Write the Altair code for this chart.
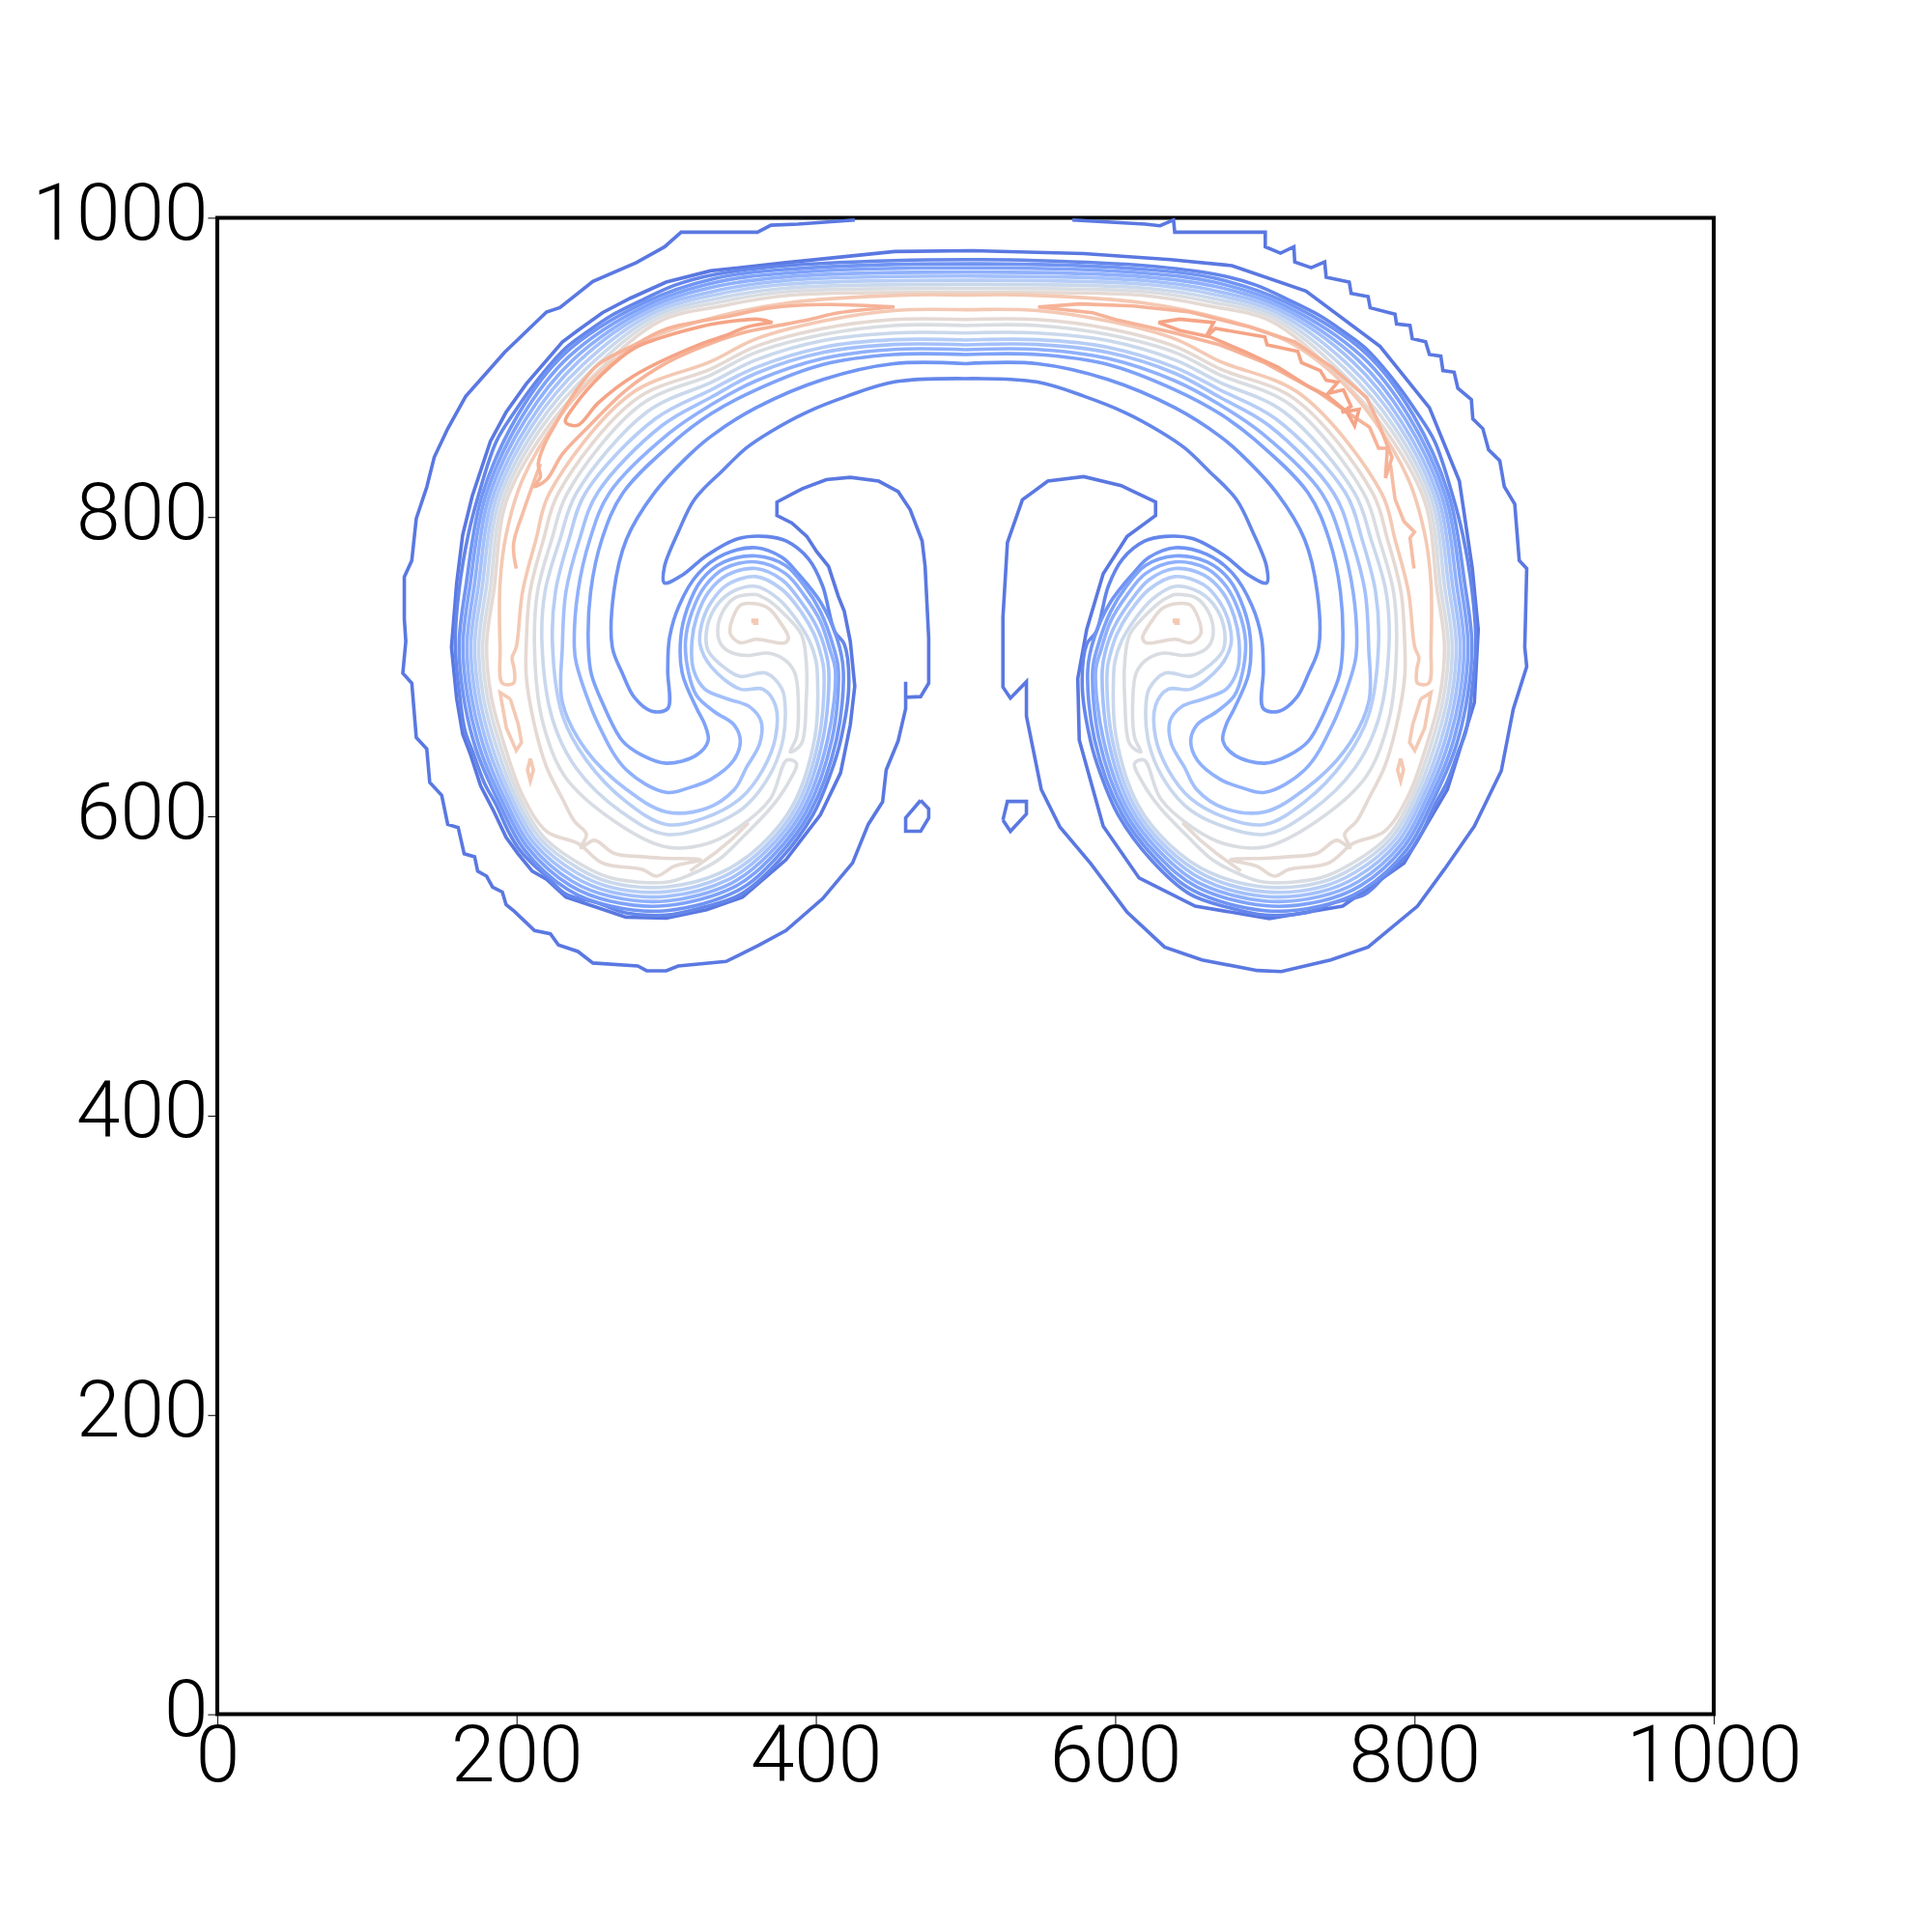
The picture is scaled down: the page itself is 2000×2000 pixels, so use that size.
import altair as alt
import pandas as pd

TICKS = [0, 200, 400, 600, 800, 1000]

L0 = [(426,998.5),(388,995.7),(370,995),(361,990.3),(310,990.3),(299,980.6),(280,970),(251,957.4),(229,940),(220,937),(192,910),(166,880.6),(154,859),(145,840),(140,820),(133,799),(130,771),(125,760),(125,732),(126,717),(124,695.6),(130,689),(133,652.7),(140,645),(142,622.6),(150,614),(154,594.6),(161,592.5),(165,575),(172,573),(174,563.4),(180,560),(184,552.7),(190.5,549.4),(193,541),(198.5,536.5),(212,523.7),(222.6,521.5),(228,514),(241,509.7),(251,502),(281,500),(287,496.8),(300,496.8),(308,500),(340,503),(362,514),(380,523.7),(404.5,545),(424.5,568.8),(435,594.6),(444.6,609.7),(447,631),(455,650.5),(460,672),(460,690),(460,679.5),(470,680),(475.4,689),(475.4,719),(473,767),(471,784),(463,805),(455,817),(442,824),(423,826.5),(407,825),(391,819),(374,810),(374,801),(384,796),(394,787),(400.5,777),(408.5,767),(415,747),(419,737),(423,717),(426,687),(423,661),(416.5,629),(403,601),(380,571),(351,546),(327,537.6),(300,532),(273,532.7),(255,538.7),(233,546),(220,558),(210.5,563.4),(201,575),(193,586),(185,603),(176,620.4),(169,642),(164,655),(160,678.5),(156.5,713),(160,756),(164,788),(170.4,814),(182.5,850.5),(193,870),(206.5,889),(230.6,917),(241,924.7),(257.4,936.5),(276,946.2),(300,957),(329.6,964.5),(380,970),(452.6,977.4),(505,978),(579,976),(637,972),(678,968),(727.5,951),(777,914),(810,873),(830,824),(838.6,766),(842.6,725),(840,676),(822,618),(793,568.7),(752,540),(703,531.7),(653.5,540),(616,558.8),(592,593.4),(576,651),(575,692),(581,725),(592,762),(608,787),(627,801),(627,810),(604,821),(579,827),(555,824),(538,811.5),(528,783),(525,733),(525,686.4),(530,679),(540.7,690),(540.7,667),(550.6,618),(563,593),(583.5,568.7),(608,536),(633,512.7),(658,504),(695,497),(711,496.3),(744,504),(769,512.7),(802,540),(820,564.6),(840,593.4),(858,630.4),(866,671.6),(875,700),(873.7,713),(875,765.6),(870,771),(867,808.6),(860,820.4),(857,837.6),(849.5,845),(845.7,859),(839,865.6),(838,878.5),(829,886),(826.5,896.8),(819,897.9),(817.6,907.5),(810,908.6),(807.4,917.2),(798.5,919.3),(797,928),(788,929),(787,935.5),(770.4,939.8),(769,947.3),(757.7,949.4),(756.4,957),(741,960.2),(740,970.5),(731,966.6),(720,970.5),(719.4,980.6),(710.5,976.3),(700.3,980.6),(700.3,990.3),(639.8,990.3),(639,998.5),(630,994.6),(620,995.7),(571.4,998.5)]

ISLAND_L = [(470,610.7),(475.4,605),(475.4,599),(470,590),(460,590),(460,599),(470,610.7)]
ISLAND_R = [(525,597.5),(530,590),(540.7,601.6),(540.7,610),(528,610),(525,597.5)]

L1 = [(500,892.5),(452.6,890.3),(420.5,880.6),(393.8,870),(369.7,857),(353.6,846.2),(337.6,831),(318.9,811.8),(308.2,790.3),(298.8,766.7),(298.8,756),(310.9,761.3),(326.9,774.2),(348.3,785.6),(367,787),(380.4,783.9),(395.1,772),(404.5,754),(412.5,723.7),(419,715),(422,687),(416.5,650.5),(410,629),(398,601),(376,571),(350,548),(324,539),(300,534),(273,535.5),(254.7,542),(233,548),(220,560),(212,567),(202.5,577),(194.5,590),(186.5,607.5),(178.4,622.5),(170.4,644),(165.6,657),(162,680.6),(159,715),(161.6,751.5),(167.7,788),(174.4,814),(186.5,850.5),(198.5,870),(212,889),(233,913),(247,923.6),(263,934.4),(284,945),(305.5,954.8),(332,962),(380,968),(452.6,971.4),(500,972),
(547,971.4),(620,968),(668,962),(694.5,954.8),(716,945),(737,934.4),(753,923.6),(767,913),(788,889),(801.5,870),(813.5,850.5),(825.6,814),(832.3,788),(838.4,751.5),(841,715),(838,680.6),(834.4,657),(829.6,644),(821.6,622.5),(813.5,607.5),(805.5,590),(797.5,577),(788,567),(780,560),(767,548),(745.3,542),(727,535.5),(700,534),(676,539),(650,548),(624,571),(602,601),(590,629),(583.5,650.5),(578,687),(581,715),(587.5,723.7),(595.5,754),(605,772),(619.6,783.9),(633,787),(651.7,785.6),(673,774.2),(689,761.3),(701.2,756),(701.2,766.7),(691.8,790.3),(681,811.8),(662.4,831),(646.4,846.2),(630.3,857),(606.2,870),(579.5,880.6),(547.4,890.3),(500,892.5)]

L2 = [(500,902.5),(452,902.5),(405,892),(360,873),(330,854),(316,842),(292,816),(273.4,785),(265,750),(264,713),(270.7,695.6),(278.7,679.5),(290.3,670.3),(301,672),(301,698),(302.2,719.3),(308.6,740.8),(321.5,762.3),(338.7,775),(360,779.5),(377.4,773),(388,762.3),(403.2,743),(414,719.3),(418.3,698),(413.7,651),(395.8,602),(373.9,572.6),(347.8,550.4),(300,537),(263,540),(234.4,551),(204.7,578.4),(188.7,608.3),(173.2,644),(164.5,680.6),(161.6,715),(166.4,755.5),(176.7,813.5),(201,868.4),(232,909),(285.5,943.3),(332.6,959.4),(380,965.5),(500,969.2),
(620,965.5),(667.4,959.4),(714.5,943.3),(768,909),(799,868.4),(823.3,813.5),(833.6,755.5),(838.4,715),(835.5,680.6),(826.8,644),(811.3,608.3),(795.3,578.4),(765.6,551),(737,540),(700,537),(652.2,550.4),(626.1,572.6),(604.2,602),(586.3,651),(581.7,698),(586,719.3),(596.8,743),(612,762.3),(622.6,773),(640,779.5),(661.3,775),(678.5,762.3),(691.4,740.8),(697.8,719.3),(699,698),(699,672),(709.7,670.3),(721.3,679.5),(729.3,695.6),(736,713),(735,750),(726.6,785),(708,816),(684,842),(670,854),(640,873),(595,892),(548,902.5),(500,902.5)]

L3 = [(500,908.6),(452,908.6),(405,902),(360,885),(330,869),(306.5,851.5),(271,816),(257,785),(249.5,750),(248,713),(250,695),(257.3,676),(270.7,650.5),(284,640.8),(300,635.5),(320,640.8),(328,650.5),(325.8,661.3),(320.4,672),(310.7,695.7),(309.7,719.3),(314,738.7),(323.6,758),(338.7,770),(360,774),(379.6,767.7),(392.5,753.7),(403.2,736.5),(411.8,713),(415,698),(410.8,651.6),(393.6,603.2),(371.8,574.2),(345.5,552.8),(300,540.3),(263,543.2),(235.8,553.8),(206.9,579.8),(190.9,609.1),(176,644),(167.2,680.6),(164.2,715),(169,755),(179,813),(203.5,866.8),(235,907.2),(287,941.5),(333.2,956.8),(380,963),(500,966.5),
(620,963),(666.8,956.8),(713,941.5),(765,907.2),(796.5,866.8),(821,813),(831,755),(835.8,715),(832.8,680.6),(824,644),(809.1,609.1),(793.1,579.8),(764.2,553.8),(737,543.2),(700,540.3),(654.5,552.8),(628.2,574.2),(606.4,603.2),(589.2,651.6),(585,698),(588.2,713),(596.8,736.5),(607.5,753.7),(620.4,767.7),(640,774),(661.3,770),(676.4,758),(686,738.7),(690.3,719.3),(689.3,695.7),(679.6,672),(674.2,661.3),(672,650.5),(680,640.8),(700,635.5),(716,640.8),(729.3,650.5),(742.7,676),(750,695),(752,713),(750.5,750),(743,785),(729,816),(693.5,851.5),(670,869),(640,885),(595,902),(548,908.6),(500,908.6)]

L4 = [(500,911.8),(452,912),(405,906),(360,891),(330,875),(302,856),(262,816),(249,785),(241,750),(238.6,713),(240,702),(254.7,661.3),(273.4,631),(300,616),(315,619),(330,624.8),(345.2,637.6),(349.5,650.5),(345.2,661.3),(332.2,669.9),(320.4,680.6),(315,695.7),(312.9,717.2),(317.2,736.5),(325.8,753.7),(338.7,765.6),(360,770),(379.6,762.3),(392.5,747.3),(403.2,730),(409.6,710.7),(413,698),(408,652),(391.4,604.3),(369.7,575.9),(343.2,555.1),(300,543.4),(263,546.4),(237.1,556.6),(209,581.2),(193,610),(178.9,644),(169.8,680.6),(166.9,715),(171.8,754.5),(181.3,812.5),(206,865.2),(238,905.3),(288.5,939.8),(333.9,954.2),(380,960.5),(500,963.7),
(620,960.5),(666.1,954.2),(711.5,939.8),(762,905.3),(794,865.2),(818.7,812.5),(828.2,754.5),(833.1,715),(830.2,680.6),(821.1,644),(807,610),(791,581.2),(762.9,556.6),(737,546.4),(700,543.4),(656.8,555.1),(630.3,575.9),(608.6,604.3),(592,652),(587,698),(590.4,710.7),(596.8,730),(607.5,747.3),(620.4,762.3),(640,770),(661.3,765.6),(674.2,753.7),(682.8,736.5),(687.1,717.2),(685,695.7),(679.6,680.6),(667.8,669.9),(654.8,661.3),(650.5,650.5),(654.8,637.6),(670,624.8),(685,619),(700,616),(726.6,631),(745.3,661.3),(760,702),(761.4,713),(759,750),(751,785),(738,816),(698,856),(670,875),(640,891),(595,906),(548,912),(500,911.8)]

L5 = [(500,915),(452,915.3),(405,910),(360,896),(330,880),(297,861),(254,816),(242,785),(233,750),(230.6,713),(230.6,676.3),(246.6,644),(273.4,618),(300,603),(327,605.4),(345.6,618),(353.8,633),(362.4,648.4),(363.4,663.4),(355.9,673.1),(340.9,678.5),(325.8,685),(318.3,697.8),(317.2,717.2),(320.4,733.3),(328,749.4),(340.9,761.3),(360,765.6),(377.4,758),(390.3,743),(401,725.8),(406.4,710.7),(408.6,698),(405,653),(389.2,605.5),(367.5,577.5),(341,557.5),(300,546.5),(263,549.5),(238.5,559.5),(211.3,582.5),(195.3,610.8),(181.7,644),(172.5,680.6),(169.5,715),(174.5,754),(183.7,812),(208.6,863.5),(241,903.5),(290,938),(334.5,951.5),(380,958),(500,961),
(620,958),(665.5,951.5),(710,938),(759,903.5),(791.4,863.5),(816.3,812),(825.5,754),(830.5,715),(827.5,680.6),(818.3,644),(804.7,610.8),(788.7,582.5),(761.5,559.5),(737,549.5),(700,546.5),(659,557.5),(632.5,577.5),(610.8,605.5),(595,653),(591.4,698),(593.6,710.7),(599,725.8),(609.7,743),(622.6,758),(640,765.6),(659.1,761.3),(672,749.4),(679.6,733.3),(682.8,717.2),(681.7,697.8),(674.2,685),(659.1,678.5),(644.1,673.1),(636.6,663.4),(637.6,648.4),(646.2,633),(654.4,618),(673,605.4),(700,603),(726.6,618),(753.4,644),(769.4,676.3),(769.4,713),(767,750),(758,785),(746,816),(703,861),(670,880),(640,896),(595,910),(548,915.3),(500,915)]

L6 = [(500,918.3),(452,918.5),(405,913.5),(360,900),(330,885),(292.5,865.5),(246,816),(235,785),(226,750),(224,715),(230.6,667.7),(246.6,637.6),(273.4,609.7),(300,594.6),(325.8,599),(349.5,611.9),(364.5,631),(373,652.7),(373,674),(364.5,685),(349.5,685),(330,700),(322.6,715),(323.6,728),(330,743),(340.9,754.8),(360,760.2),(377.4,751.6),(390.3,736.5),(398.9,721.5),(403.2,708.6),(405.3,698),(402.3,653.3),(387,606.6),(365.4,579),(338.8,560),(300,549.6),(263,552.6),(239.9,562.4),(213.4,584),(197.4,611.6),(184.5,644),(175.1,680.6),(172.1,715),(177.1,753.5),(186,811.5),(211,862),(244,901.5),(291.5,936.3),(335.1,949),(380,955.5),(500,958.2),
(620,955.5),(664.9,949),(708.5,936.3),(756,901.5),(789,862),(814,811.5),(822.9,753.5),(827.9,715),(824.9,680.6),(815.5,644),(802.6,611.6),(786.6,584),(760.1,562.4),(737,552.6),(700,549.6),(661.2,560),(634.6,579),(613,606.6),(597.7,653.3),(594.7,698),(596.8,708.6),(601.1,721.5),(609.7,736.5),(622.6,751.6),(640,760.2),(659.1,754.8),(670,743),(676.4,728),(677.4,715),(670,700),(650.5,685),(635.5,685),(627,674),(627,652.7),(635.5,631),(650.5,611.9),(674.2,599),(700,594.6),(726.6,609.7),(753.4,637.6),(769.4,667.7),(776,715),(774,750),(765,785),(754,816),(707.5,865.5),(670,885),(640,900),(595,913.5),(548,918.5),(500,918.3)]

L7 = [(500,923),(452,923),(405,918),(360,905),(330,890),(287.5,870.5),(240,816),(229,785),(219,750),(217,715),(224,665),(240,632),(270,603),(300,588),(336.6,596.8),(353.8,607.6),(368.8,626.9),(377.4,648.4),(379.6,670),(377.4,685),(366.6,695.7),(349.5,693.5),(340.9,697.9),(328,710.8),(326.9,723.6),(332.2,738.7),(343,749.4),(360,753.7),(375.3,745),(388,730),(395.7,717.2),(400,704.3),(401,695.7),(399.5,653.9),(384.8,607.7),(363.3,580.7),(336.5,562.3),(300,552.8),(263,555.8),(241.3,565.3),(215.6,585.3),(199.6,612.4),(187.4,644),(177.7,680.6),(174.8,715),(179.8,753),(188.3,811),(213.6,860.4),(247,899.6),(293,934.5),(335.8,946.4),(380,953),(500,955.5),
(620,953),(664.2,946.4),(707,934.5),(753,899.6),(786.4,860.4),(811.7,811),(820.2,753),(825.2,715),(822.3,680.6),(812.6,644),(800.4,612.4),(784.4,585.3),(758.7,565.3),(737,555.8),(700,552.8),(663.5,562.3),(636.7,580.7),(615.2,607.7),(600.5,653.9),(599,695.7),(600,704.3),(604.3,717.2),(612,730),(624.7,745),(640,753.7),(657,749.4),(667.8,738.7),(673.1,723.6),(672,710.8),(659.1,697.9),(650.5,693.5),(633.4,695.7),(622.6,685),(620.4,670),(622.6,648.4),(631.2,626.9),(646.2,607.6),(663.4,596.8),(700,588),(730,603),(760,632),(776,665),(783,715),(781,750),(771,785),(760,816),(712.5,870.5),(670,890),(640,905),(595,918),(548,923),(500,923)]

L8_LOOP_L = [(360,748.4),(346.2,746.2),(337.6,736.5),(334.4,723.6),(336.6,715),(343,709.7),(353.8,707.5),(368.8,709),(379.6,704.3),(386,695.7),(388.2,678.5),(387,652.7),(382.8,643),(390.3,648.4),(393.5,676.3),(393.5,704.3),(390.3,721.5),(379.6,734.4),(368.8,744),(360,748.4)]
L8_LOOP_R = [(640,748.4),(653.8,746.2),(662.4,736.5),(665.6,723.6),(663.4,715),(657,709.7),(646.2,707.5),(631.2,709),(620.4,704.3),(614,695.7),(611.8,678.5),(613,652.7),(617.2,643),(609.7,648.4),(606.5,676.3),(606.5,704.3),(609.7,721.5),(620.4,734.4),(631.2,744),(640,748.4)]

L8 = [(500,928),(452,928),(405,922),(360,910),(330,895),(283,875),(234,816),(223.5,785),(214,750),(212,713),(217,665),(232,627),(265,597),(300,579.5),(327,581.7),(348.3,592.5),(369.7,611.8),(380.6,637.6),(387,635.4),(381.7,622.6),(369.7,605.4),(351,586),(335,571),(316,561),(300,556),(263,558.9),(242.6,568.1),(217.8,586.6),(201.8,613.2),(190.2,644),(180.4,680.6),(177.4,715),(182.5,752.5),(190.7,810.5),(216,858.8),(250,897.8),(294.5,932.8),(336.4,943.8),(380,950.5),(500,952.7),
(620,950.5),(663.6,943.8),(705.5,932.8),(750,897.8),(784,858.8),(809.3,810.5),(817.5,752.5),(822.6,715),(819.6,680.6),(809.8,644),(798.2,613.2),(782.2,586.6),(757.4,568.1),(737,558.9),(700,556),(684,561),(665,571),(649,586),(630.3,605.4),(618.3,622.6),(613,635.4),(619.4,637.6),(630.3,611.8),(651.7,592.5),(673,581.7),(700,579.5),(735,597),(768,627),(783,665),(788,713),(786,750),(776.5,785),(766,816),(717,875),(670,895),(640,910),(595,922),(548,928),(500,928)]

L9 = [(500,932),(452,932),(405,926),(360,914),(330,899),(279.5,878.5),(228,816),(218,785),(209,750),(206.5,715),(206.5,693.5),(211.9,661.3),(219.9,633.3),(230.6,611.8),(238.6,596.8),(246.7,588),(243,579),(252,584),(265.4,575.2),(284,573),(300,572),(322.9,571),(305.5,566.7),(293.5,560),(284,564.5),(257.3,568.8),(241.3,581.7),(220,590),(204,614),(193,644),(183,680.6),(180,715),(185,752),(193,810),(218.6,857),(253,896),(296,931),(337,941),(380,948),(500,950),
(620,948),(663,941),(704,931),(747,896),(781.4,857),(807,810),(815,752),(820,715),(817,680.6),(807,644),(796,614),(780,590),(758.7,581.7),(742.7,568.8),(716,564.5),(706.5,560),(694.5,566.7),(677.1,571),(700,572),(716,573),(734.6,575.2),(748,584),(757,579),(753.3,588),(761.4,596.8),(769.4,611.8),(780.1,633.3),(788.1,661.3),(793.5,693.5),(793.5,715),(791,750),(782,785),(772,816),(720.5,878.5),(670,899),(640,914),(595,926),(548,932),(500,932)]

L9_TAIL_L = [(355,595.7),(343,583.9),(332,575),(316,563.5)]
L9_TAIL_R = [(645,595.7),(657,583.9),(668,575),(684,563.5)]

L10 = [(500,938.5),(452,938),(405,931),(360,919),(330,904),(276,882),(222,816),(213,785),(204,750),(199.8,713),(197,706),(198.5,697.8),(198,689),(190.5,689),(189,713),(189,756),(193,788),(204,825),(228,866),(254.7,896),(284,917),(327,932),(380.4,943),(460.6,948.4),(500,948.4),
(539.4,948.4),(619.6,943),(673,932),(716,917),(745.3,896),(772,866),(796,825),(807,788),(811,756),(811,713),(809.5,689),(802,689),(801.5,697.8),(803,706),(800.2,713),(796,750),(787,785),(778,816),(724,882),(670,904),(640,919),(595,931),(548,938),(500,938.5)]

L10_SLIVER_L = [(195.8,678.5),(201.2,661.3),(203.3,649.4),(199.8,644),(193.2,659),(189,682.7),(195.8,678.5)]
L10_SLIVER_R = [(804.2,678.5),(798.8,661.3),(796.7,649.4),(800.2,644),(806.8,659),(811,682.7),(804.2,678.5)]
L10_PATCH_L = [(209.2,638.7),(211.3,631),(209.2,623.6),(207.3,631),(209.2,638.7)]
L10_PATCH_R = [(790.8,638.7),(788.7,631),(790.8,623.6),(792.7,631),(790.8,638.7)]

L11_TAIL_L = [(199.8,765.6),(198,782),(205,805),(216,835.5)]
L11_TAIL_R = [(799.7,765.6),(797,786),(800,790),(793,797),(787,812),(784,835)]

R2_L = [(452.6,940.4),(407,942),(369.7,939.8),(343,934.4),(300.2,925.8),(278.7,915),(254.7,902),(238.6,882.8),(228,865.6),(218.6,848.4),(214.5,835.5),(215.9,827),(211.9,820.4),(219.9,824.8),(230.6,842),(246.7,859),(273.4,885),(300.2,903),(327,915),(353.6,923.7),(380.4,929),(396.4,932.2),(415.2,936.5),(452.6,940.4)]
R2_R = [(548.5,940.4),(576.5,942.4),(612,941),(650,937),(690,927),(720,917),(745,900),(768,880),(775,865),(785,840),(780.6,826),(781.9,846),(776,846),(770,860),(755,870),(735,884),(700,903),(670,915),(640,923),(600,932),(585,936.5),(548.5,940.4)]

R1_L = [(371,930),(361.7,932.2),(337.6,930),(321.5,926.9),(294.8,919.3),(278.7,912.9),(257.4,895.7),(238.6,874.2),(232.7,863.5),(240.8,861.3),(254.7,876.4),(278.7,894.6),(321.5,915),(340.3,921.5),(353.6,926.9),(371,930)]
R1_R = [(628.8,930),(642.9,932.2),(665.8,930),(660.7,920.4),(667,926),(700,920.4),(701.5,915),(722,910.7),(724.5,903.2),(737,897.9),(741,891.4),(748.7,890),(742.3,882.6),(752.5,885),(757.6,874),(751.3,870),(763,872),(760,861),(755,870),(742.3,880.6),(729.6,887),(709,900),(686,910.7),(663.3,920.4),(642.9,924.7),(628.8,930)]

CENTRE_L = [(343,728),(349.5,741),(360,742),(368.8,738.7),(375.2,731),(381.7,719.3),(379.5,716),(360,718.3),(349.5,716),(343,721.5),(343,728)]
CENTRE_R = [(657,728),(650.5,741),(640,742),(631.2,738.7),(624.8,731),(618.3,719.3),(620.5,716),(640,718.3),(650.5,716),(657,721.5),(657,728)]
DOT_L = [(358,729),(360.5,729),(360.5,731),(358,731),(358,729)]
DOT_R = [(639.5,729),(642,729),(642,731),(639.5,731),(639.5,729)]

SERIES = [
    ("L0", "#5a78e1", "linear", L0),
    ("isl", "#5a78e1", "linear", ISLAND_L),
    ("isr", "#5a78e1", "linear", ISLAND_R),
    ("L1", "#6486ea", "catmull-rom", L1),
    ("L2", "#7094f3", "catmull-rom", L2),
    ("L3", "#7ea2f9", "catmull-rom", L3),
    ("L4", "#8fb0fc", "catmull-rom", L4),
    ("L5", "#a3c0fb", "catmull-rom", L5),
    ("L6", "#b6cdf6", "catmull-rom", L6),
    ("L7", "#cad8ec", "catmull-rom", L7),
    ("L8", "#d9dde2", "catmull-rom", L8),
    ("L8a", "#d9dde2", "catmull-rom", L8_LOOP_L),
    ("L8b", "#d9dde2", "catmull-rom", L8_LOOP_R),
    ("L9", "#e5d9d3", "catmull-rom", L9),
    ("L9a", "#e5d9d3", "linear", L9_TAIL_L),
    ("L9b", "#e5d9d3", "linear", L9_TAIL_R),
    ("L9c", "#e5d9d3", "catmull-rom", CENTRE_L),
    ("L9d", "#e5d9d3", "catmull-rom", CENTRE_R),
    ("L10", "#f4c9b4", "catmull-rom", L10),
    ("L10a", "#f4c9b4", "linear", L10_SLIVER_L),
    ("L10b", "#f4c9b4", "linear", L10_SLIVER_R),
    ("L10c", "#f4c9b4", "linear", L10_PATCH_L),
    ("L10d", "#f4c9b4", "linear", L10_PATCH_R),
    ("L10e", "#f4c9b4", "linear", DOT_L),
    ("L10f", "#f4c9b4", "linear", DOT_R),
    ("L11a", "#f6bda4", "catmull-rom", L11_TAIL_L),
    ("L11b", "#f6bda4", "linear", L11_TAIL_R),
    ("R2a", "#f6b398", "catmull-rom", R2_L),
    ("R2b", "#f6b398", "linear", R2_R),
    ("R1a", "#f5a486", "catmull-rom", R1_L),
    ("R1b", "#f5a486", "linear", R1_R),
]

x_scale = alt.Scale(domain=[0, 1000], nice=False, zero=False)
y_scale = alt.Scale(domain=[0, 1000], nice=False, zero=False)

AXIS_COMMON = dict(
    values=TICKS, grid=False, domain=False, tickColor="black", tickWidth=1, tickSize=10,
    labelFont="Roboto", labelFontWeight=300, labelFontSize=82, labelColor="black",
    labelOverlap=False, labelFlush=False, labelLimit=400, format="d", title=None,
)
x_axis = alt.Axis(labelPadding=-6, labelBaseline="top", **AXIS_COMMON)
y_axis = alt.Axis(labelPadding=0, labelOffset=-3, **AXIS_COMMON)

layers = []
for name, color, interp, pts in SERIES:
    df = pd.DataFrame({"x": [p[0] for p in pts], "y": [p[1] for p in pts], "i": range(len(pts))})
    layers.append(
        alt.Chart(df).mark_line(color=color, strokeWidth=3.6, interpolate=interp, clip=True).encode(
            x=alt.X("x:Q", scale=x_scale, axis=x_axis),
            y=alt.Y("y:Q", scale=y_scale, axis=y_axis),
            order="i:Q",
        )
    )

chart = alt.layer(*layers).properties(
    width=1550, height=1550,
    autosize=alt.AutoSizeParams(type="none"),
    padding={"left": 217, "top": 217, "right": 218, "bottom": 218},
    background="white",
).configure_view(stroke="black", strokeWidth=4)

chart.save("out.html", embed_options={"renderer": "svg", "actions": False})
